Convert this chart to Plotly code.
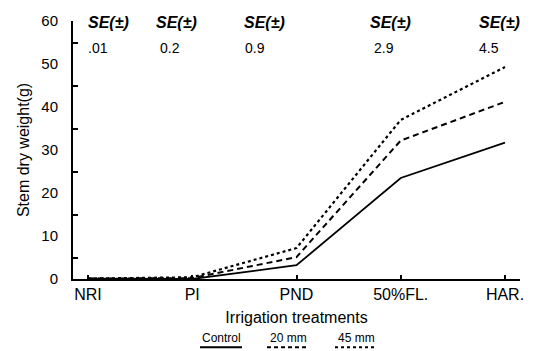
import plotly.graph_objects as go

categories = ["NRI", "PI", "PND", "50%FL.", "HAR."]
control = [0.1, 0.0, 3.2, 23.5, 31.7]
mm20 = [0.1, 0.2, 5.1, 32.2, 41.2]
mm45 = [0.1, 0.4, 7.2, 37.0, 49.3]
se_values = [".01", "0.2", "0.9", "2.9", "4.5"]
se_label_x = [0.2, 0.85, 1.69, 2.9, 3.95]
se_value_x = [0.1, 0.79, 1.6, 2.84, 3.85]
legend_names = ["Control", "20 mm", "45 mm"]
y_labels = [0, 10, 20, 30, 40, 50, 60]
y_minor = [5, 15, 25, 35, 45, 55]

W, H = 538, 351
L, R, T, B = 73, 18, 18, 72
PW, PH = W - L - R, H - T - B
xs = list(range(len(categories)))
FONT = "Liberation Sans, Arial, sans-serif"


def px_x(p):
    return (p - L) / PW


def px_y(p):
    return (H - B - p) / PH


fig = go.Figure()
styles = [("solid", 1.8), ("6px,4px", 2.0), ("dot", 2.2)]
for name, ys, (dash, w) in zip(legend_names, [control, mm20, mm45], styles):
    fig.add_trace(go.Scatter(x=xs, y=ys, mode="lines", name=name,
                             line=dict(color="black", width=w, dash=dash),
                             showlegend=False))
# invisible trace on overlay axis to carry minor ticks
fig.add_trace(go.Scatter(x=[xs[0]], y=[0], yaxis="y2", mode="markers",
                         marker=dict(opacity=0), showlegend=False, hoverinfo="skip"))

for lx, vx, sv in zip(se_label_x, se_value_x, se_values):
    fig.add_annotation(x=lx, y=px_y(20), xref="x", yref="paper", yanchor="middle",
                       xanchor="center",
                       text="<b><i>SE(±)</i></b>", showarrow=False,
                       font=dict(size=16, family=FONT, color="black"))
    fig.add_annotation(x=vx, y=px_y(45), xref="x", yref="paper", yanchor="middle",
                       xanchor="center",
                       text=sv, showarrow=False,
                       font=dict(size=14, family=FONT, color="black"))

# custom legend: text with line sample underneath
leg_cx = [221, 288, 356]
leg_dash = ["solid", "4px,3px", "dot"]
for cx, nm, dsh in zip(leg_cx, legend_names, leg_dash):
    fig.add_annotation(x=px_x(cx), y=px_y(339), xref="paper", yref="paper",
                       text=nm, showarrow=False, yanchor="middle", xanchor="center",
                       font=dict(size=12, family=FONT, color="black"))
    fig.add_shape(type="line", xref="paper", yref="paper",
                  x0=px_x(cx - 21), x1=px_x(cx + 21),
                  y0=px_y(348), y1=px_y(348),
                  line=dict(color="black", width=2, dash=dsh))

fig.update_layout(
    width=W, height=H,
    margin=dict(l=L, r=R, t=T, b=B),
    paper_bgcolor="white", plot_bgcolor="white",
    font=dict(family=FONT, size=14, color="black"),
    xaxis=dict(
        range=[-0.144, 4.144], tickvals=xs, ticktext=categories,
        showgrid=False, zeroline=False, showline=True, linecolor="black", linewidth=2,
        ticks="inside", ticklen=4, tickcolor="black", tickwidth=1.5,
        tickfont=dict(size=16, family=FONT),
        title=dict(text="Irrigation treatments", font=dict(size=16, family=FONT), standoff=10),
    ),
    yaxis=dict(
        range=[0, 60], tickvals=y_labels,
        showgrid=False, zeroline=False, showline=True, linecolor="black", linewidth=2,
        ticks="", ticklabelstandoff=10,
        tickfont=dict(size=15, family=FONT),
        title=dict(text="Stem dry weight(g)", font=dict(size=16, family=FONT), standoff=8),
    ),
    yaxis2=dict(overlaying="y", range=[0, 60], tickvals=y_minor, ticks="inside",
                ticklen=5, tickwidth=1.5, tickcolor="black", showticklabels=False,
                showgrid=False, zeroline=False, showline=False, side="left"),
)

fig.write_html("out.html")
